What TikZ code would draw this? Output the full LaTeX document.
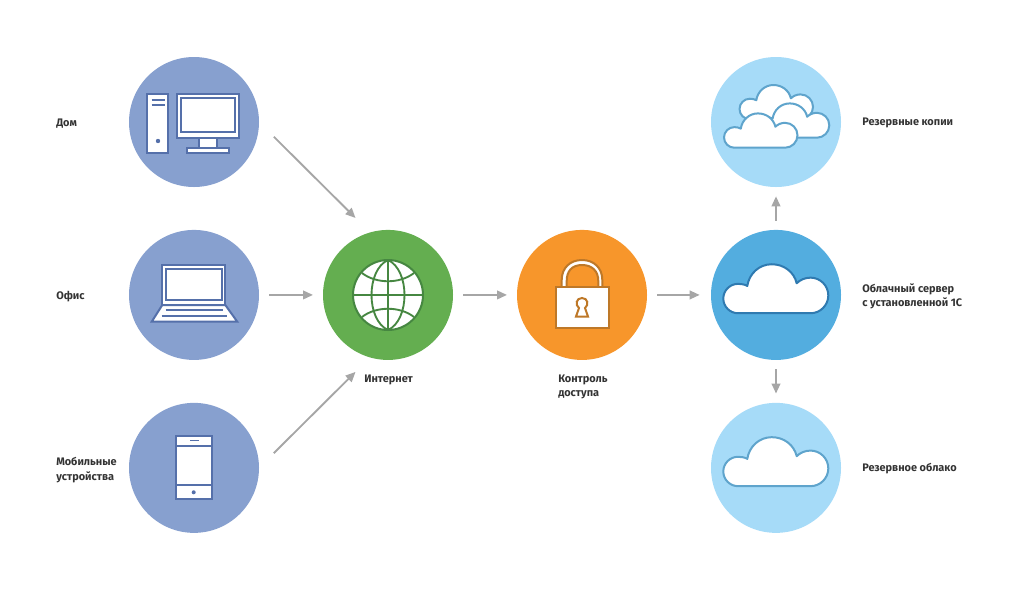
\documentclass[tikz,border=0pt]{standalone}
\usepackage{fontspec}
\setmainfont{Fira Sans}
\usetikzlibrary{
  arrows.meta,
  positioning,
  calc
}
\definecolor{devicefill}{RGB}{135,160,207}
\definecolor{deviceline}{RGB}{85,112,170}
\definecolor{netfill}{RGB}{100,174,80}
\definecolor{netline}{RGB}{70,135,65}
\definecolor{lockfill}{RGB}{247,150,43}
\definecolor{lockline}{RGB}{190,120,40}
\definecolor{serverfill}{RGB}{83,173,223}
\definecolor{serverline}{RGB}{47,122,176}
\definecolor{backupfill}{RGB}{166,219,248}
\definecolor{backupline}{RGB}{95,164,204}
\definecolor{arrowgray}{RGB}{166,166,166}
\definecolor{labelgray}{RGB}{51,51,51}
\tikzset{
  roundbox/.style={
    circle, minimum size=97.5pt, inner sep=0pt, outer sep=0pt
  },
  flowarrow/.style={
    -{Triangle[length=7.5pt,width=6.5pt]},
    draw=arrowgray, line width=1.4pt
  },
  sidelabel/.style={
    font=\fontsize{8.2}{10.9}\selectfont\bfseries\color{labelgray},
    anchor=west, align=left, inner sep=0pt
  },
  iconline/.style={
    fill=white, line width=1.5pt, line join=miter
  },
  iconrule/.style={
    line width=1.4pt
  },
  pics/cloudicon/.style={
    code={
      \draw[iconline, line join=round] (-38,18.3)
        .. controls (-46,18.3) and (-52.7,11.7) .. (-52.7,3.6)
        .. controls (-52.7,-4.5) and (-46,-11.1) .. (-38,-11.1)
        .. controls (-35,-11.1) and (-31,-10.5) .. (-28.7,-9)
        .. controls (-27,-21) and (-17,-30.7) .. (-4.3,-30.7)
        .. controls (8,-30.7) and (18,-23) .. (20.7,-11.7)
        .. controls (24,-15) and (29,-17.3) .. (34.5,-17.3)
        .. controls (44.3,-17.3) and (52.3,-9.3) .. (52.3,0.5)
        .. controls (52.3,10.3) and (44.3,18.3) .. (34.5,18.3)
        -- cycle;
    }
  },
}
\begin{document}
\begin{tikzpicture}[x=0.75pt, y=-0.75pt, node distance=32.2pt and 48pt]

  \useasboundingbox (0,0) rectangle (1024,590);

  %% Left column
  \node[roundbox, fill=devicefill] (home) at (194,122) {};
  \node[roundbox, fill=devicefill, below=of home] (office) {};
  \node[roundbox, fill=devicefill, below=of office] (mobile) {};

  %% Middle row
  \node[roundbox, fill=netfill, right=of office] (net) {};
  \node[roundbox, fill=lockfill, right=of net] (lock) {};
  \node[roundbox, fill=serverfill, right=of lock] (server) {};

  %% Right column
  \node[roundbox, fill=backupfill, above=of server] (copies) {};
  \node[roundbox, fill=backupfill, below=of server] (spare) {};

  %% Arrows
  \draw[flowarrow, shorten <=15.7pt, shorten >=15.4pt] (home.east) -- (net.106);
  \draw[flowarrow, shorten <=15.7pt, shorten >=15.4pt] (mobile.east) -- (net.-106);
  \draw[flowarrow, shorten <=7.5pt, shorten >=7.5pt] (office) -- (net);
  \draw[flowarrow, shorten <=7.5pt, shorten >=7.5pt] (net) -- (lock);
  \draw[flowarrow, shorten <=7.5pt, shorten >=8.5pt] (lock) -- (server);
  \draw[flowarrow, shorten <=7pt, shorten >=7pt] (server) -- (copies);
  \draw[flowarrow, shorten <=7pt, shorten >=7pt] (server) -- (spare);

  %% Desktop
  \begin{scope}[draw=deviceline]
    \draw[iconline] (147.3,94) rectangle (168.3,152.7);
    \draw[iconrule] (151.7,100) -- (165,100);
    \draw[iconrule] (151.7,105.3) -- (165,105.3);
    \fill[deviceline] (158,141) circle [radius=2.2];
    \draw[iconline] (199.3,137.7) rectangle (216.7,150);
    \draw[iconline] (176.7,94) rectangle (239.3,137.7);
    \draw[iconline] (181,98.3) rectangle (235,131.7);
    \draw[iconline] (186.7,147.7) rectangle (229,152.7);
  \end{scope}

  %% Laptop
  \begin{scope}[draw=deviceline]
    \draw[iconline] (162.3,305) -- (151.7,321.7) -- (237.3,321.7) -- (225.3,305) -- cycle;
    \draw[iconline] (162.3,265) rectangle (225.3,305);
    \draw[iconline] (166.3,269.3) rectangle (221.7,300.3);
    \draw[iconrule] (165.7,310.3) -- (222.7,310.3);
    \draw[iconrule] (161.7,315.7) -- (226.7,315.7);
  \end{scope}

  %% Phone
  \begin{scope}[draw=deviceline]
    \draw[iconline] (175.7,436) rectangle (212.3,499);
    \draw[iconrule] (175.7,446) -- (212.3,446);
    \draw[iconrule] (175.7,485) -- (212.3,485);
    \draw[iconrule] (190,440.5) -- (198.7,440.5);
    \fill[deviceline] (193.7,492.3) circle [radius=2];
  \end{scope}

  %% Globe
  \begin{scope}[shift={(388,295)}, draw=netline]
    \draw[iconline] (0,0) circle [radius=35];
    \draw[iconrule] (0,-35) -- (0,35);
    \draw[iconrule] (-35,0) -- (35,0);
    \draw[iconrule] (0,-35) .. controls (-22,-25) and (-22,25) .. (0,35);
    \draw[iconrule] (0,-35) .. controls (22,-25) and (22,25) .. (0,35);
    \draw[iconrule] (-26,-22) .. controls (-12,-11) and (12,-11) .. (26,-22);
    \draw[iconrule] (-26,22) .. controls (-12,11) and (12,11) .. (26,22);
  \end{scope}

  %% Padlock
  \begin{scope}[draw=lockline]
    \draw[iconline] (561.7,287) -- (561.7,280)
      .. controls (561.7,268) and (570,260) .. (582,260)
      .. controls (594,260) and (602.3,268) .. (602.3,280)
      -- (602.3,287) -- (598.3,287) -- (598.3,281)
      .. controls (598.3,271) and (592,265) .. (582,265)
      .. controls (572,265) and (566.7,271) .. (566.7,281)
      -- (566.7,287) -- cycle;
    \draw[iconline] (556,286.7) rectangle (608.7,328.3);
    \draw[iconline] (579,308)
      .. controls (575,305) and (576,298) .. (582,298)
      .. controls (588,298) and (589,305) .. (585,308)
      -- (588,316.5) -- (576,316.5) -- cycle;
  \end{scope}

  %% Clouds
  \begin{scope}[draw=serverline]
    \pic at (server) {cloudicon};
  \end{scope}
  \begin{scope}[draw=backupline]
    \pic at (spare) {cloudicon};
    \pic[scale=0.7] at (776.4,106.5) {cloudicon};
    \pic[scale=0.7] at (792.7,124.9) {cloudicon};
    \pic[scale=0.7] at (760.9,134.9) {cloudicon};
  \end{scope}

  %% Labels
  \node[sidelabel] (lhome) at (56,123.5) {Дом};
  \node[sidelabel] (loffice) at (56,296.5) {Офис};
  \node[sidelabel] (lmobile) at (56,470) {Мобильные\\устройства};
  \node[sidelabel] (lnet) at (364,379.5) {Интернет};
  \node[sidelabel] (llock) at (558,387) {Контроль\\доступа};
  \node[sidelabel] (lcopies) at (862,122.5) {Резервные копии};
  \node[sidelabel] (lserver) at (862,296.5) {Облачный сервер\\с установленной 1С};
  \node[sidelabel] (lspare) at (862,468.5) {Резервное облако};

\end{tikzpicture}
\end{document}
